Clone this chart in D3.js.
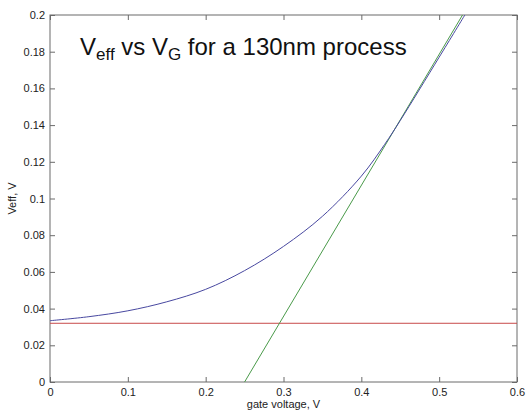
<!DOCTYPE html>
<html>
<head>
<meta charset="utf-8">
<script src="https://cdn.jsdelivr.net/npm/d3@7"></script>
<style>
  body { margin: 0; background: #fff; }
  text { font-family: Arial, "Liberation Sans", sans-serif; }
</style>
</head>
<body>
<svg width="526" height="412"></svg>
<script>
// gate voltage samples and Veff
var vgBlue = [0, 0.05, 0.1, 0.15, 0.2, 0.25, 0.3, 0.35, 0.4, 0.43, 0.45, 0.5, 0.533];
var veffBlue = [0.0334, 0.0356, 0.0388, 0.0437, 0.0505, 0.0607, 0.0739, 0.0903, 0.1122, 0.1295, 0.1425, 0.177, 0.2];

// horizontal line
var vgRed = [0, 0.6];
var veffRed = [0.032, 0.032];

// asymptote
var vgGreen = [0.25, 0.53];
var veffGreen = [0, 0.2];

var xTicks = [0, 0.1, 0.2, 0.3, 0.4, 0.5, 0.6];
var yTicks = [0, 0.02, 0.04, 0.06, 0.08, 0.1, 0.12, 0.14, 0.16, 0.18, 0.2];

var svg = d3.select("svg"),
    margin = {top: 15, right: 9, bottom: 30, left: 50},
    width = svg.attr("width") - margin.left - margin.right,
    height = svg.attr("height") - margin.top - margin.bottom,
    g = svg.append("g").attr("transform", "translate(" + margin.left + "," + margin.top + ")");

var x = d3.scaleLinear().domain([0, 0.6]).range([0, width]),
    y = d3.scaleLinear().domain([0, 0.2]).range([height, 0]);

g.append("clipPath").attr("id", "clip")
  .append("rect").attr("width", width).attr("height", height);

function fmt(d) { return d === 0 ? "0" : String(+d.toFixed(2)); }

// axes, MATLAB style: ticks inward on all four sides
var axisColor = "#6a6a6a";
function styleAxis(sel) {
  sel.select(".domain").remove();
  sel.selectAll("line").attr("stroke", axisColor);
  sel.selectAll("text").attr("fill", "#222").style("font-size", "11px");
}

g.append("g")
  .attr("transform", "translate(0," + height + ")")
  .call(d3.axisBottom(x).tickValues(xTicks).tickFormat(fmt).tickSizeInner(-5).tickSizeOuter(0).tickPadding(6))
  .call(styleAxis);

g.append("g")
  .call(d3.axisTop(x).tickValues(xTicks).tickSizeInner(-5).tickSizeOuter(0).tickFormat(""))
  .call(styleAxis);

g.append("g")
  .call(d3.axisLeft(y).tickValues(yTicks).tickFormat(fmt).tickSizeInner(-5).tickSizeOuter(0).tickPadding(5))
  .call(styleAxis);

g.append("g")
  .attr("transform", "translate(" + width + ",0)")
  .call(d3.axisRight(y).tickValues(yTicks).tickSizeInner(-5).tickSizeOuter(0).tickFormat(""))
  .call(styleAxis);

g.append("rect")
  .attr("width", width).attr("height", height)
  .attr("fill", "none").attr("stroke", axisColor).attr("stroke-width", 1);

var line = d3.line()
    .curve(d3.curveCatmullRom)
    .x(function(d) { return x(d[0]); })
    .y(function(d) { return y(d[1]); });

var series = [
  {vg: vgRed, veff: veffRed, color: "#c84a4a"},
  {vg: vgGreen, veff: veffGreen, color: "#4a9a4a"},
  {vg: vgBlue, veff: veffBlue, color: "#4848a0"}
];

g.append("g").attr("clip-path", "url(#clip)")
  .selectAll("path")
  .data(series)
  .enter().append("path")
    .attr("fill", "none")
    .attr("stroke", function(d) { return d.color; })
    .attr("stroke-width", 1)
    .attr("d", function(d) { return line(d.vg.map(function(v, i) { return [v, d.veff[i]]; })); });

// title
var title = g.append("text")
  .attr("x", 30).attr("y", 40)
  .attr("fill", "#111")
  .style("font-size", "24px");
title.append("tspan").text("V");
title.append("tspan").attr("dy", 5).style("font-size", "17px").text("eff");
title.append("tspan").attr("dy", -5).text(" vs V");
title.append("tspan").attr("dy", 5).style("font-size", "17px").text("G");
title.append("tspan").attr("dy", -5).text(" for a 130nm process");

// axis labels
svg.append("text")
  .attr("x", margin.left + width / 2).attr("y", 408)
  .attr("text-anchor", "middle")
  .attr("fill", "#222")
  .style("font-size", "11px")
  .text("gate voltage, V");

svg.append("text")
  .attr("transform", "translate(16," + (margin.top + height / 2) + ") rotate(-90)")
  .attr("text-anchor", "middle")
  .attr("fill", "#222")
  .style("font-size", "11px")
  .text("Veff, V");
</script>
</body>
</html>
